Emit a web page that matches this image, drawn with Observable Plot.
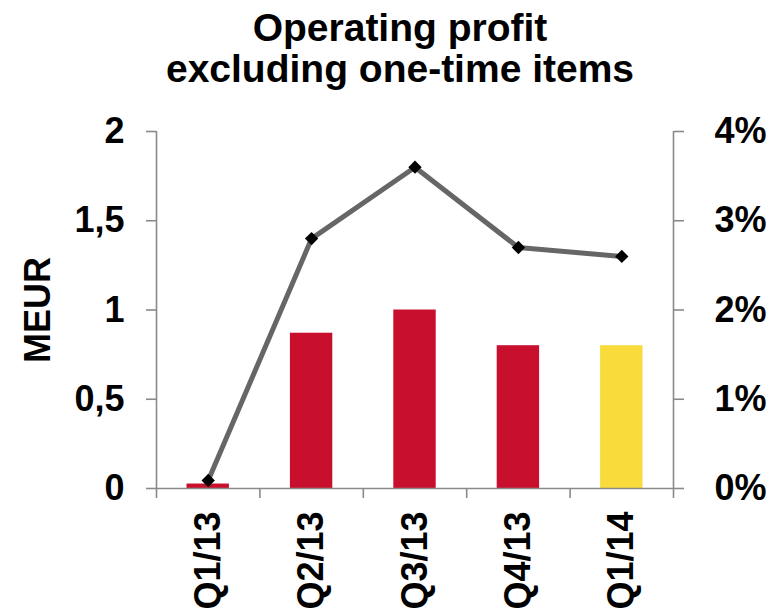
<!DOCTYPE html>
<html>
<head>
<meta charset="utf-8">
<script src="https://cdn.jsdelivr.net/npm/d3@7"></script>
<script src="https://cdn.jsdelivr.net/npm/@observablehq/plot@0.6"></script>
<style>
  body { margin: 0; background: #fff; font-family: "Liberation Sans", Arial, sans-serif; }
  #title {
    width: 800px; height: 96px; box-sizing: border-box; padding-top: 7px;
    text-align: center; font-weight: bold; font-size: 39px; color: #000;
  }
  #title div { height: 41px; line-height: 41px; white-space: nowrap; }
</style>
</head>
<body>
<div id="title"><div>Operating profit</div><div>excluding one-time items</div></div>
<div id="chart"></div>
<script>
// Quarterly operating profit (MEUR, bars) and operating margin (%, line)
const quarters = ["Q1/13", "Q2/13", "Q3/13", "Q4/13", "Q1/14"];
const profitMEUR = [0.025, 0.87, 1.0, 0.8, 0.8];
const marginPct = [0.09, 2.8, 3.6, 2.7, 2.6];
const barColors = ["#c8102e", "#c8102e", "#c8102e", "#c8102e", "#f9dc3c"];
const leftTicks = [0, 0.5, 1, 1.5, 2];
const rightTicks = [0, 1, 2, 3, 4];

// The margin axis shares the MEUR scale: 4 % sits at 2 MEUR
const pctScale = 2 / 4;

const rows = quarters.map((q, i) => ({
  q, i, profit: profitMEUR[i], pct: marginPct[i], color: barColors[i]
}));

const axisGray = "#8a8a8a";
const font = "'Liberation Sans', Arial, sans-serif";
const labelSize = 36;

const chart = Plot.plot({
  width: 772,
  height: 516,
  marginTop: 35,
  marginBottom: 124,
  marginLeft: 156,
  marginRight: 99,
  style: { fontFamily: font, background: "#fff", color: "#000" },
  x: { type: "linear", domain: [0, quarters.length], axis: null },
  y: { domain: [0, 2], axis: null },
  marks: [
    // bars
    Plot.rectY(rows, {
      x1: d => d.i, x2: d => d.i + 1, y1: 0, y2: "profit",
      fill: "color", insetLeft: 30.5, insetRight: 30.5
    }),
    // axis lines
    Plot.ruleX([0, quarters.length], { y1: 0, y2: 2, stroke: axisGray, strokeWidth: 1.6 }),
    Plot.ruleY([0], { stroke: axisGray, strokeWidth: 1.6 }),
    // left axis (MEUR)
    Plot.axisY(leftTicks, {
      anchor: "left", tickSize: 10, tickPadding: 22, stroke: axisGray, strokeWidth: 1.6,
      fill: "#000", fontSize: labelSize, fontWeight: "bold",
      tickFormat: d => String(d).replace(".", ","), label: null
    }),
    // right axis (%)
    Plot.axisY(rightTicks.map(p => p * pctScale), {
      anchor: "right", tickSize: 10, tickPadding: 31, stroke: axisGray, strokeWidth: 1.6,
      fill: "#000", fontSize: labelSize, fontWeight: "bold",
      tickFormat: d => Math.round(d / pctScale) + "%", label: null
    }),
    // category boundary ticks
    Plot.axisX(d3.range(quarters.length + 1), {
      anchor: "bottom", tickSize: 10, stroke: axisGray, strokeWidth: 1.6,
      tickFormat: () => "", label: null
    }),
    // category labels
    Plot.axisX(rows.map(d => d.i + 0.5), {
      anchor: "bottom", tickSize: 0, tickPadding: 23, tickRotate: -90,
      fill: "#000", fontSize: labelSize, fontWeight: "bold",
      tickFormat: v => quarters[Math.round(v - 0.5)], label: null
    }),
    // margin line with diamond markers
    Plot.line(rows, {
      x: d => d.i + 0.5, y: d => d.pct * pctScale,
      stroke: "#666666", strokeWidth: 5
    }),
    Plot.dot(rows, {
      x: d => d.i + 0.5, y: d => d.pct * pctScale,
      symbol: "diamond2", r: 6, fill: "#000", stroke: "none"
    }),
    // unit label
    Plot.text(["MEUR"], {
      frameAnchor: "left", dx: -118, rotate: -90, textAnchor: "middle",
      fontSize: labelSize, fontWeight: "bold", fill: "#000"
    })
  ]
});

document.getElementById("chart").appendChild(chart);
</script>
</body>
</html>
